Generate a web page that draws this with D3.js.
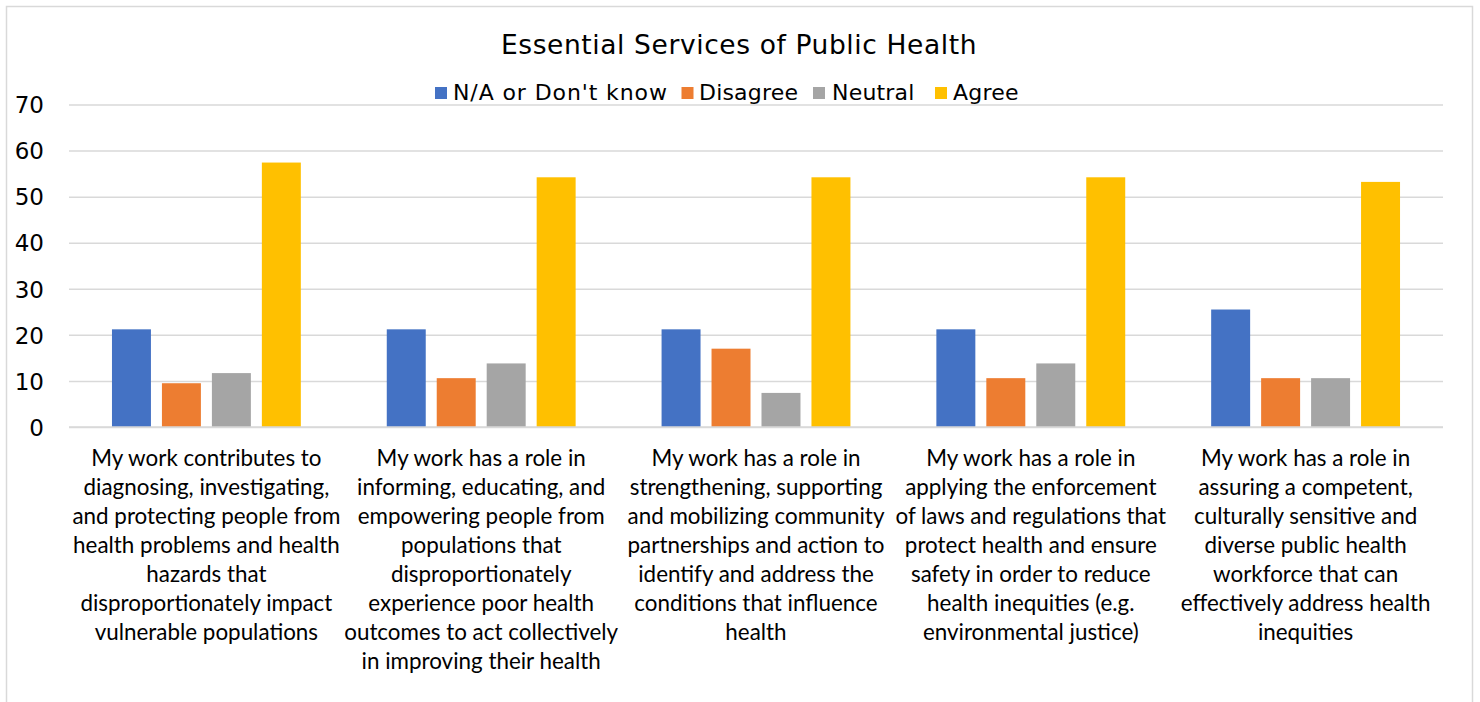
<!DOCTYPE html>
<html><head><meta charset="utf-8">
<script src="https://cdn.jsdelivr.net/npm/d3@7"></script>
<style>
html,body{margin:0;padding:0;background:#fff;}
svg{display:block;}
</style></head>
<body>
<svg id="chart" width="1480" height="702"></svg>
<script>
const title = "Essential Services of Public Health";
const categories = [
  ["My work contributes to","diagnosing, investigating,","and protecting people from","health problems and health","hazards that","disproportionately impact","vulnerable populations"],
  ["My work has a role in","informing, educating, and","empowering people from","populations that","disproportionately","experience poor health","outcomes to act collectively","in improving their health"],
  ["My work has a role in","strengthening, supporting","and mobilizing community","partnerships and action to","identify and address the","conditions that influence","health"],
  ["My work has a role in","applying the enforcement","of laws and regulations that","protect health and ensure","safety in order to reduce","health inequities (e.g.","environmental justice)"],
  ["My work has a role in","assuring a competent,","culturally sensitive and","diverse public health","workforce that can","effectively address health","inequities"]
];
const seriesNames = ["N/A or Don't know","Disagree","Neutral","Agree"];
const seriesColors = ["#4472C4","#ED7D31","#A5A5A5","#FFC000"];
const naValues = [21.2, 21.2, 21.2, 21.2, 25.5];
const disagreeValues = [9.5, 10.6, 17.0, 10.6, 10.6];
const neutralValues = [11.7, 13.8, 7.4, 13.8, 10.6];
const agreeValues = [57.4, 54.2, 54.2, 54.2, 53.2];
const yTicks = [0,10,20,30,40,50,60,70];

(function(){
const seriesValues = [naValues, disagreeValues, neutralValues, agreeValues];
const svg = d3.select("#chart");
const labelFont = "Lato, 'Noto Sans', sans-serif";
const wide = "'DejaVu Sans', Verdana, sans-serif";

// border
svg.append("path").attr("d","M6.5,710 V6.5 H1472.5 V710")
  .attr("fill","none").attr("stroke","#d9d9d9").attr("stroke-width",1.5);

const pL = 69, pR = 1443, pT = 104.5, pB = 427;
const idx = d3.range(categories.length);
const x0 = d3.scaleBand().domain(idx).range([pL,pR]).padding(0);
const x1 = d3.scaleBand().domain(d3.range(seriesNames.length)).range([0,x0.bandwidth()])
  .paddingInner(0.22).paddingOuter(0.86);
const y = d3.scaleLinear().domain([0,70]).range([pB,pT]);

// gridlines + tick labels
const yAxis = d3.axisLeft(y).tickValues(yTicks).tickSize(-(pR-pL)).tickFormat(d3.format("d"));
const gy = svg.append("g").attr("transform",`translate(${pL},0)`).call(yAxis);
gy.select(".domain").remove();
gy.selectAll(".tick line").attr("stroke","#d9d9d9").attr("stroke-width",1.5);
gy.selectAll(".tick text").attr("font-family",wide).attr("font-size",23).attr("fill","#000")
  .attr("text-anchor","end").attr("x",-25).attr("dy","0.36em");

// bars
const groups = svg.append("g").selectAll("g").data(idx).join("g")
  .attr("transform",i=>`translate(${x0(i)},0)`);
groups.selectAll("rect").data(i=>seriesValues.map((vals,s)=>({s, v: vals[i]}))).join("rect")
  .attr("x",d=>x1(d.s)).attr("width",x1.bandwidth())
  .attr("y",d=>y(d.v)).attr("height",d=>y(0)-y(d.v))
  .attr("fill",d=>seriesColors[d.s]);

// baseline
svg.append("line").attr("x1",pL).attr("x2",pR).attr("y1",y(0)).attr("y2",y(0))
  .attr("stroke","#d9d9d9").attr("stroke-width",1.5);

// category labels
const lab = svg.append("g").selectAll("text").data(idx).join("text")
  .attr("x",i=>x0(i)+x0.bandwidth()/2).attr("y",466)
  .attr("text-anchor","middle").attr("font-family",labelFont).attr("font-size",22.4).attr("fill","#000");
lab.selectAll("tspan").data(i=>categories[i].map((t,k)=>({t,k,i}))).join("tspan")
  .attr("x",d=>x0(d.i)+x0.bandwidth()/2).attr("dy",d=>d.k===0?0:29).text(d=>d.t);

// title
svg.append("text").attr("x",739).attr("y",54).attr("text-anchor","middle")
  .attr("font-family",wide).attr("font-size",26.5).attr("letter-spacing",0.6).attr("fill","#000").text(title);

// legend
const swatchX = [435, 681.5, 813, 935];
const textX = [453, 699, 832, 953];
const lg = svg.append("g").selectAll("g").data(seriesNames).join("g");
lg.append("rect").attr("x",(d,i)=>swatchX[i]).attr("y",87).attr("width",12).attr("height",12)
  .attr("fill",(d,i)=>seriesColors[i]);
lg.append("text").attr("x",(d,i)=>textX[i]).attr("y",99.5).attr("font-family",wide).attr("font-size",22)
  .attr("letter-spacing",(d,i)=> i===0 ? 0.9 : 0.2)
  .attr("fill","#000").text(d=>d);
})();
</script>
</body></html>
